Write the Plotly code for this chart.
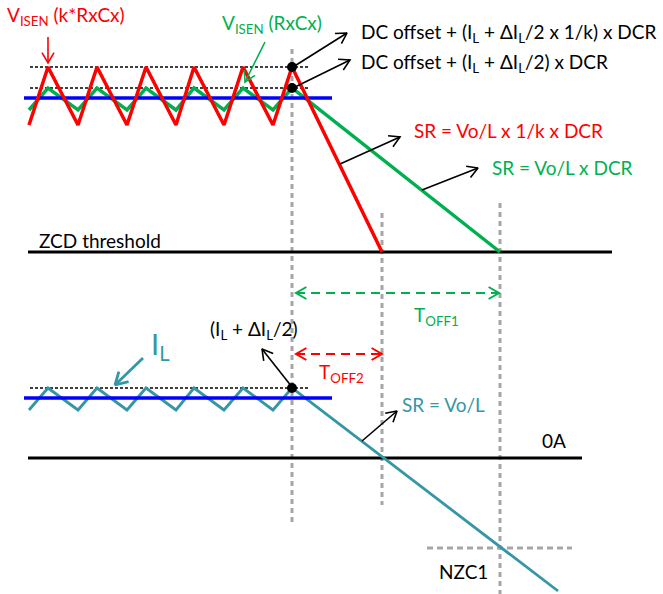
import math
import plotly.graph_objects as go

# ---------------- data (diagram values, in picture units) ----------------
peak_x = [48, 97, 146, 194, 243, 292]
trough_x = [29, 78, 127, 176, 224, 273]
red_levels = [67, 125]        # peak, trough of V_ISEN (k*RxCx)
green_levels = [88, 110]      # peak, trough of V_ISEN (RxCx)
teal_levels = [388, 410]      # peak, trough of I_L
blue_levels = [98, 398]       # average levels
blue_span = [24, 332]
dotted_levels = [67, 88, 388]
dotted_span = [30, 310]
zcd_level = 252
zero_level = 458
nzc_level = 548
zcd_span = [28, 612]
zero_span = [28, 582]
nzc_span = [427, 572]
red_end = [382, 252]
green_end = [500, 252]
teal_end = [558, 591]
vlines_x = [292, 382, 500]
vlines_top = [49, 213, 203]
vlines_bottom = [522, 505, 594]
dots_x = [292, 292, 292]
dots_y = [67, 88, 388]

RED = "#ff0000"
GREEN = "#00b050"
BLUE = "#0000ff"
TEAL = "#3596a6"
GRAY = "#a6a6a6"
BLACK = "#000000"
FONT = "Lato"
FS = 19

fig = go.Figure()


def zigzag(levels, end):
    xs, ys = [], []
    for t, p in zip(trough_x, peak_x):
        xs += [t, p]
        ys += [levels[1], levels[0]]
    if end is not None:
        xs.append(end[0])
        ys.append(end[1])
    return xs, ys


def line(xs, ys, color, width, dash="solid"):
    fig.add_trace(go.Scatter(x=xs, y=ys, mode="lines",
                             line=dict(color=color, width=width, dash=dash),
                             hoverinfo="skip", showlegend=False))


def head(x0, y0, x1, y1, size=12, ang=30):
    d = math.atan2(y1 - y0, x1 - x0)
    xs, ys = [], []
    for s in (1, -1):
        a = d + math.pi + s * math.radians(ang)
        xs += [x1 + size * math.cos(a)]
        ys += [y1 + size * math.sin(a)]
    return [xs[0], x1, xs[1]], [ys[0], y1, ys[1]]


def arrow(x0, y0, x1, y1, color=BLACK, width=1.6, dash="solid", both=False, size=12):
    line([x0, x1], [y0, y1], color, width, dash)
    hx, hy = head(x0, y0, x1, y1, size)
    line(hx, hy, color, width)
    if both:
        hx, hy = head(x1, y1, x0, y0, size)
        line(hx, hy, color, width)


# gray dashed guides
for x, t, b in zip(vlines_x, vlines_top, vlines_bottom):
    line([x, x], [t, b], GRAY, 3, "5px,4px")
line(nzc_span, [nzc_level, nzc_level], GRAY, 3, "6px,4px")

# black reference lines
line(zcd_span, [zcd_level, zcd_level], BLACK, 3)
line(zero_span, [zero_level, zero_level], BLACK, 3)
for lv in dotted_levels:
    line(dotted_span, [lv, lv], BLACK, 1.5, "3px,2px")

# waveforms
gx, gy = zigzag(green_levels, green_end)
line(gx, gy, GREEN, 3.5)
tx, ty = zigzag(teal_levels, teal_end)
line(tx, ty, TEAL, 2.8)
for lv in blue_levels:
    line(blue_span, [lv, lv], BLUE, 3.5)
rx, ry = zigzag(red_levels, red_end)
line(rx, ry, RED, 3.5)

# dots
fig.add_trace(go.Scatter(x=dots_x, y=dots_y, mode="markers",
                         marker=dict(color=BLACK, size=10),
                         hoverinfo="skip", showlegend=False))

# arrows
arrow(48, 37, 48, 63, RED, 1.6)
arrow(265, 42, 245, 82, GREEN, 1.6)
arrow(293, 67, 347, 33)
arrow(293, 88, 350, 60)
arrow(340, 164, 400, 137)
arrow(422, 190, 478, 168)
arrow(292, 387, 262, 349)
arrow(143, 358, 115, 385, TEAL, 2.8, size=14)
arrow(362, 441, 397, 411)
arrow(296, 293, 499, 293, GREEN, 2, "9px,6px", both=True)
arrow(296, 354, 382, 354, RED, 2, "9px,6px", both=True)

# texts
def txt(x, y, s, color=BLACK, size=FS, anchor="left"):
    fig.add_annotation(x=x, y=y, text=s, showarrow=False, xanchor=anchor,
                       yanchor="middle", font=dict(family=FONT, size=size, color=color))


txt(5, 16, "V<sub>ISEN</sub> (k*RxCx)", RED)
txt(220, 24, "V<sub>ISEN</sub> (RxCx)", GREEN)
txt(359, 33, "DC offset + (I<sub>L</sub> + ΔI<sub>L</sub>/2 x 1/k) x DCR")
txt(359, 63, "DC offset + (I<sub>L</sub> + ΔI<sub>L</sub>/2) x DCR")
txt(412, 130, "SR = Vo/L x 1/k x DCR", RED)
txt(490, 167, "SR = Vo/L x DCR", GREEN)
txt(37, 240, "ZCD threshold")
txt(412, 316, "T<sub>OFF1</sub>", GREEN)
txt(208, 330, "(I<sub>L</sub> + ΔI<sub>L</sub>/2)")
txt(317, 373, "T<sub>OFF2</sub>", RED)
txt(149, 345, "I<sub>L</sub>", TEAL, 29)
txt(400, 404, "SR = Vo/L", TEAL)
txt(540, 440, "0A")
txt(437, 571, "NZC1")

fig.update_layout(
    width=663, height=594,
    margin=dict(l=0, r=0, t=0, b=0),
    paper_bgcolor="white", plot_bgcolor="white",
    xaxis=dict(range=[0, 663], visible=False, fixedrange=True),
    yaxis=dict(range=[594, 0], visible=False, fixedrange=True),
    showlegend=False,
)
fig.write_html("out.html", config={"displayModeBar": False},
               post_script="document.body.style.margin='0';document.body.style.overflow='hidden';")
